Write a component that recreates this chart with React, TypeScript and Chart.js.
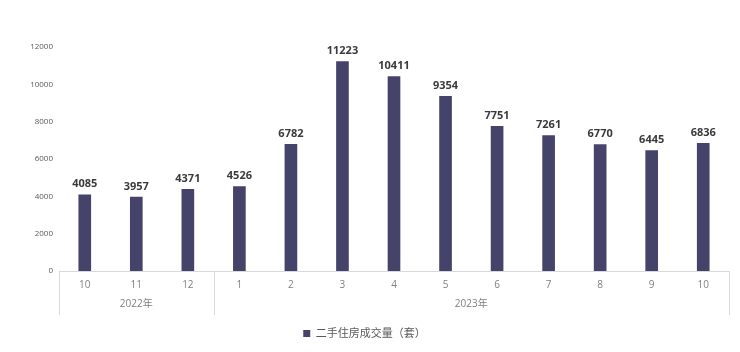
import React, { useEffect, useRef } from "react";
import { Chart, registerables } from "chart.js";

Chart.register(...registerables);

const months = ["10", "11", "12", "1", "2", "3", "4", "5", "6", "7", "8", "9", "10"];
const years = ["2022年", "2023年"];
const yearSpans = [3, 10];
const volumes = [4085, 3957, 4371, 4526, 6782, 11223, 10411, 9354, 7751, 7261, 6770, 6445, 6836];
const seriesName = "二手住房成交量（套）";

const BAR = "#46436b";
const GRID = "#d9d9d9";
const FONT = "'Open Sans', 'Noto Sans CJK SC', sans-serif";

const decorPlugin = {
  id: "decor",
  afterDatasetsDraw(chart: any) {
    const { ctx, chartArea } = chart;
    const meta = chart.getDatasetMeta(0);
    ctx.save();
    // data labels
    ctx.font = `bold 11px ${FONT}`;
    ctx.fillStyle = "#3a3a3a";
    ctx.textAlign = "center";
    ctx.textBaseline = "bottom";
    meta.data.forEach((bar: any, i: number) => {
      ctx.fillText(String(volumes[i]), bar.x, bar.y - 5);
    });
    // axis line & separators
    const bottom = chartArea.bottom;
    const step = (chartArea.right - chartArea.left) / months.length;
    ctx.strokeStyle = GRID;
    ctx.lineWidth = 1;
    ctx.beginPath();
    ctx.moveTo(chartArea.left, bottom + 0.5);
    ctx.lineTo(chartArea.right, bottom + 0.5);
    const bounds = [0];
    let idx = 0;
    yearSpans.forEach((s) => {
      idx += s;
      bounds.push(idx);
    });
    bounds.forEach((b) => {
      const px = Math.round(chartArea.left + b * step) + 0.5;
      ctx.moveTo(px, bottom);
      ctx.lineTo(px, bottom + 44);
    });
    ctx.stroke();
    // year labels
    ctx.font = `10px ${FONT}`;
    ctx.fillStyle = "#7f7f7f";
    ctx.textBaseline = "middle";
    let start = 0;
    years.forEach((yl, i) => {
      const end = start + yearSpans[i];
      const cx = chartArea.left + ((start + end) / 2) * step;
      ctx.fillText(yl, cx, bottom + 33);
      start = end;
    });
    ctx.restore();
  },
};

export default function App() {
  const ref = useRef<HTMLCanvasElement>(null);
  useEffect(() => {
    const chart = new Chart(ref.current!, {
      type: "bar",
      data: {
        labels: months,
        datasets: [
          {
            label: seriesName,
            data: volumes,
            backgroundColor: BAR,
            barThickness: 12,
          },
        ],
      },
      options: {
        animation: false,
        responsive: false,
        maintainAspectRatio: false,
        layout: { padding: { top: 47, left: 0, right: 11, bottom: 3 } },
        plugins: {
          tooltip: { enabled: false },
          legend: {
            position: "bottom",
            labels: {
              boxWidth: 7,
              boxHeight: 7,
              color: "#595959",
              font: { size: 11, family: FONT },
              padding: 10,
            },
          },
        },
        scales: {
          x: {
            grid: { display: false, drawTicks: false },
            border: { display: false },
            ticks: { color: "#7f7f7f", font: { size: 10, family: FONT }, padding: 8, maxRotation: 0 },
            afterFit(scale: any) {
              scale.height = 47;
            },
          },
          y: {
            min: 0,
            max: 12000,
            grid: { display: false, drawTicks: false },
            border: { display: false },
            ticks: {
              stepSize: 2000,
              color: "#595959",
              font: { size: 8, family: FONT },
              padding: 6,
              callback: (v: any) => String(v),
            },
            afterFit(scale: any) {
              scale.width = 59;
            },
          },
        },
      },
      plugins: [decorPlugin],
    });
    return () => chart.destroy();
  }, []);
  return (
    <div style={{ position: "fixed", left: 0, top: 0, width: 740, height: 352, background: "#fff" }}>
      <canvas ref={ref} width={740} height={352} style={{ width: 740, height: 352 }} />
    </div>
  );
}
